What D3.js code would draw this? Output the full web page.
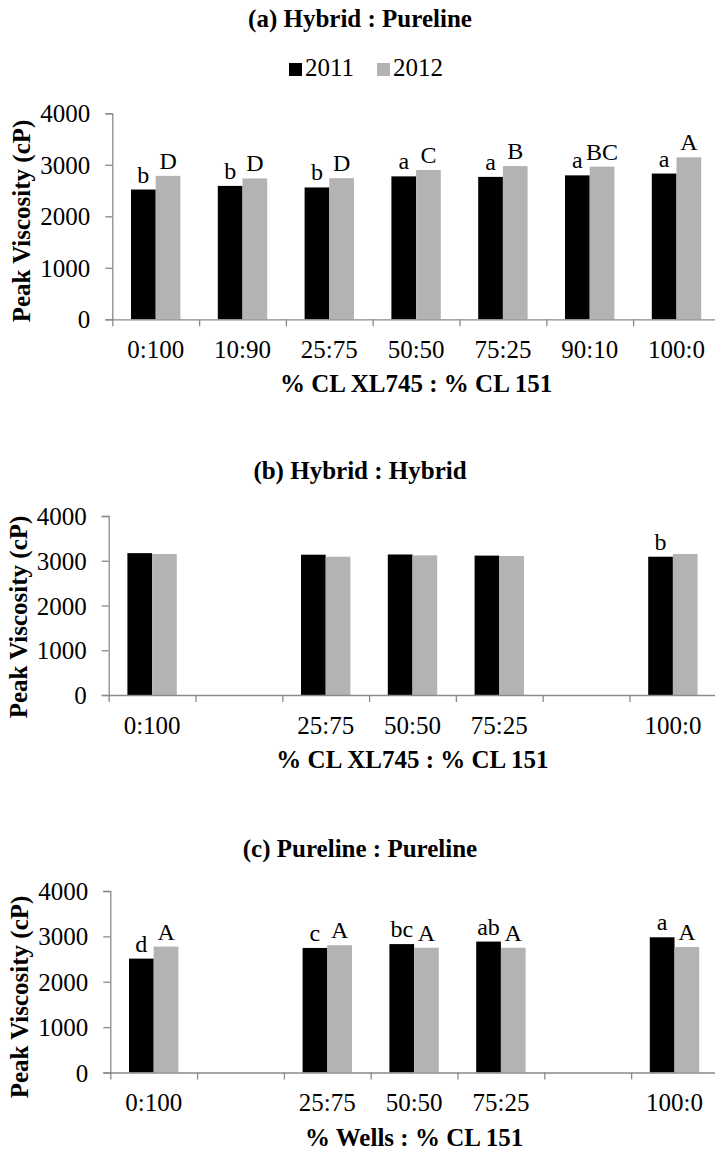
<!DOCTYPE html>
<html>
<head>
<meta charset="utf-8">
<script src="https://cdn.jsdelivr.net/npm/d3@7"></script>
<style>
  html, body { margin: 0; padding: 0; background: #fff; }
  svg { display: block; font-family: "Liberation Serif", "Times New Roman", serif; }
</style>
</head>
<body>
<svg id="chart" width="715" height="1150"></svg>
<script>
// ---------- data ----------
const series = ["2011", "2012"];
const seriesColors = ["#000000", "#b3b3b3"];
const yTicks = [0, 1000, 2000, 3000, 4000];

const categoriesA = ["0:100", "10:90", "25:75", "50:50", "75:25", "90:10", "100:0"];
const a2011 = [2520, 2590, 2560, 2775, 2765, 2795, 2830];
const a2012 = [2785, 2735, 2740, 2900, 2975, 2965, 3145];
const labelsA2011 = ["b", "b", "b", "a", "a", "a", "a"];
const labelsA2012 = ["D", "D", "D", "C", "B", "BC", "A"];

const categoriesB = ["0:100", "", "25:75", "50:50", "75:25", "", "100:0"];
const b2011 = [3170, null, 3135, 3140, 3115, null, 3090];
const b2012 = [3150, null, 3090, 3120, 3105, null, 3150];
const labelsB2011 = ["", "", "", "", "", "", "b"];
const labelsB2012 = ["", "", "", "", "", "", ""];

const categoriesC = ["0:100", "", "25:75", "50:50", "75:25", "", "100:0"];
const c2011 = [2510, null, 2745, 2830, 2885, null, 2980];
const c2012 = [2775, null, 2805, 2750, 2750, null, 2765];
const labelsC2011 = ["d", "", "c", "bc", "ab", "", "a"];
const labelsC2012 = ["A", "", "A", "A", "A", "", "A"];

const panels = [
  { title: "(a) Hybrid : Pureline", xTitle: "% CL XL745 : % CL 151", cats: categoriesA,
    vals: [a2011, a2012], labs: [labelsA2011, labelsA2012], legend: true,
    axisX: 112.3, top: 113.3, zero: 319.3, titleY: 27, ytCenter: 221 },
  { title: "(b) Hybrid : Hybrid", xTitle: "% CL XL745 : % CL 151", cats: categoriesB,
    vals: [b2011, b2012], labs: [labelsB2011, labelsB2012], legend: false,
    axisX: 108.7, top: 516, zero: 695, titleY: 479, ytCenter: 617 },
  { title: "(c) Pureline : Pureline", xTitle: "% Wells : % CL 151", cats: categoriesC,
    vals: [c2011, c2012], labs: [labelsC2011, labelsC2012], legend: false,
    axisX: 110.3, top: 891, zero: 1072.5, titleY: 857, ytCenter: 997 }
];

// ---------- drawing ----------
const svg = d3.select("#chart");
const catWidth = 86.8;
const axisColor = "#8a8a8a";
const chartCenter = 360;

panels.forEach(p => {
  const n = p.cats.length;
  const right = p.axisX + catWidth * n;
  const idx = d3.range(n);
  const x = d3.scaleBand().domain(idx).range([p.axisX, right]).paddingInner(0).paddingOuter(0);
  const xs = d3.scaleBand().domain(series).range([0, x.bandwidth()]).paddingInner(0).paddingOuter(0.757);
  const y = d3.scaleLinear().domain([0, 4000]).range([p.zero, p.top]);
  const g = svg.append("g");

  // title
  g.append("text").attr("x", chartCenter).attr("y", p.titleY)
    .attr("text-anchor", "middle").attr("font-weight", "bold").attr("font-size", 25)
    .text(p.title);

  // legend
  if (p.legend) {
    const lg = g.append("g");
    const items = [{ s: series[0], x: 289 }, { s: series[1], x: 377 }];
    items.forEach((it, i) => {
      lg.append("rect").attr("x", it.x).attr("y", 63).attr("width", 13).attr("height", 13)
        .attr("fill", seriesColors[i]);
      lg.append("text").attr("x", it.x + 16).attr("y", 76).attr("font-size", 25).text(it.s);
    });
  }

  // y axis
  const ya = g.append("g").attr("transform", `translate(${p.axisX},0)`)
    .call(d3.axisLeft(y).tickValues(yTicks).tickSize(7).tickFormat(d3.format("d")));
  ya.select(".domain").attr("stroke", axisColor).attr("stroke-width", 1.3);
  ya.selectAll(".tick line").attr("stroke", axisColor).attr("stroke-width", 1.3);
  ya.selectAll(".tick text").attr("x", -22).attr("dy", "0.34em")
    .attr("font-size", 25).attr("font-family", "Liberation Serif, Times New Roman, serif")
    .attr("fill", "#000");

  // bars
  p.vals.forEach((vals, si) => {
    g.append("g").selectAll("rect").data(idx.filter(i => vals[i] != null)).join("rect")
      .attr("x", i => x(i) + xs(series[si]))
      .attr("width", xs.bandwidth())
      .attr("y", i => y(vals[i]))
      .attr("height", i => y(0) - y(vals[i]))
      .attr("fill", seriesColors[si]);
    g.append("g").selectAll("text").data(idx.filter(i => vals[i] != null && p.labs[si][i])).join("text")
      .attr("x", i => x(i) + xs(series[si]) + xs.bandwidth() / 2)
      .attr("y", i => y(vals[i]) - 7)
      .attr("text-anchor", "middle").attr("font-size", 24)
      .text(i => p.labs[si][i]);
  });

  // x axis: boundary ticks
  const xl = d3.scaleLinear().domain([0, n]).range([p.axisX, right]);
  const xa = g.append("g").attr("transform", `translate(0,${p.zero})`)
    .call(d3.axisBottom(xl).tickValues(d3.range(n + 1)).tickSize(7).tickSizeOuter(0).tickFormat(""));
  xa.select(".domain").attr("stroke", axisColor).attr("stroke-width", 1.3);
  xa.selectAll(".tick line").attr("stroke", axisColor).attr("stroke-width", 1.3);

  // x axis: category labels
  const xb = g.append("g").attr("transform", `translate(0,${p.zero})`)
    .call(d3.axisBottom(x).tickSize(0).tickFormat(i => p.cats[i]));
  xb.select(".domain").remove();
  xb.selectAll(".tick text").attr("y", 38.5).attr("dy", null)
    .attr("font-size", 25).attr("font-family", "Liberation Serif, Times New Roman, serif")
    .attr("fill", "#000");

  // x axis title
  g.append("text").attr("x", (p.axisX + right) / 2).attr("y", p.zero + 73)
    .attr("text-anchor", "middle").attr("font-weight", "bold").attr("font-size", 25)
    .text(p.xTitle);

  // y axis title
  g.append("text").attr("transform", `translate(${p.axisX - 82},${p.ytCenter}) rotate(-90)`)
    .attr("text-anchor", "middle").attr("font-weight", "bold").attr("font-size", 25)
    .text("Peak Viscosity (cP)");
});
</script>
</body>
</html>
